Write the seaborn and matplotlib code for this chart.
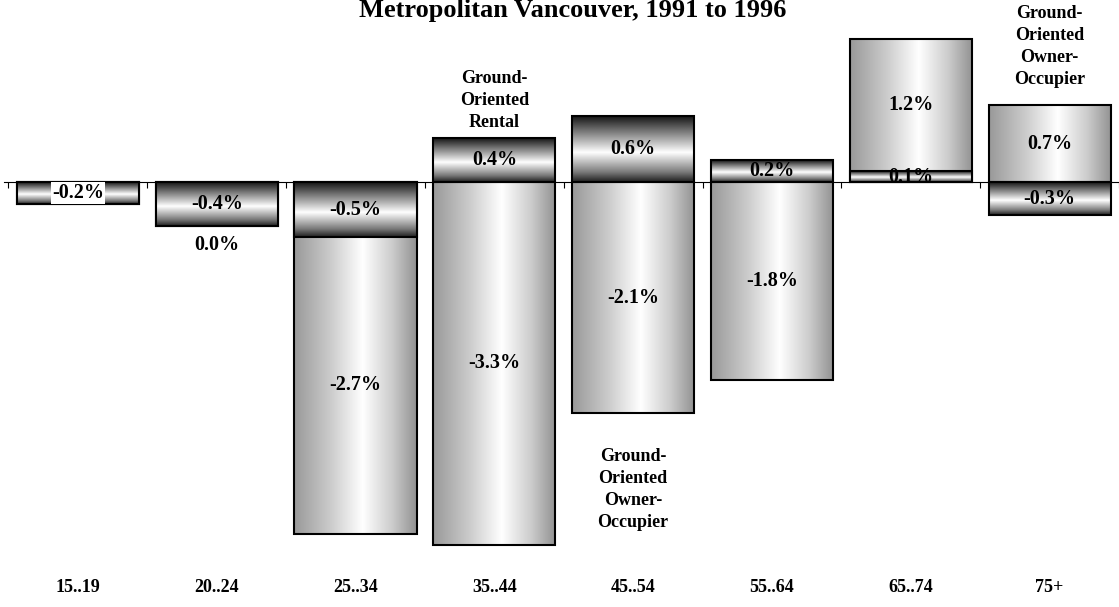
import numpy as np
import matplotlib
matplotlib.use("Agg")
import matplotlib.pyplot as plt
import matplotlib.transforms as mtransforms
import seaborn as sns

# Change in share of households by age group, Metropolitan Vancouver 1991-1996
age_groups = ["15..19", "20..24", "25..34", "35..44", "45..54", "55..64", "65..74", "75+"]
rental_change = [-0.2, -0.4, -0.5, 0.4, 0.6, 0.2, 0.1, -0.3]
owner_change = [0.0, 0.0, -2.7, -3.3, -2.1, -1.8, 1.2, 0.7]
owner_label_shown = [False, True, True, True, True, True, True, True]
title_text = "Metropolitan Vancouver, 1991 to 1996"
rental_note = "Ground-\nOriented\nRental"
owner_note = "Ground-\nOriented\nOwner-\nOccupier"

sns.set_theme(style="white")
plt.rcParams["font.family"] = ["Liberation Serif", "DejaVu Serif"]
plt.rcParams["font.weight"] = "bold"
plt.rcParams["text.color"] = "black"

W, H = 1119, 607
fig = plt.figure(figsize=(W / 100, H / 100), dpi=100)
ax = fig.add_axes([0, 0, 1, 1])

# pixel geometry of the plotting frame
x0_px, cat_px = 8.6, 140.5
zero_px, unit_px = 182.0, 110.0
xlim = (-0.5 - x0_px / cat_px, -0.5 + (W - x0_px) / cat_px)
ylim = (-(H - zero_px) / unit_px, zero_px / unit_px)

# owner bars sit on top of the rental bar when both move the same way
base = [r if (o == 0 or np.sign(o) == np.sign(r)) else 0.0
        for r, o in zip(rental_change, owner_change)]
owner_top = [b + o for b, o in zip(base, owner_change)]

bar_w = 0.88
sns.barplot(x=age_groups, y=owner_top, ax=ax, width=bar_w, errorbar=None,
            color="white", edgecolor="black", linewidth=1.5)
n_owner = len(ax.patches)
sns.barplot(x=age_groups, y=rental_change, ax=ax, width=bar_w, errorbar=None,
            color="white", edgecolor="black", linewidth=1.5)
owner_patches = ax.patches[:n_owner]
rental_patches = ax.patches[n_owner:]


def gray_cmap_array(stops, levels, n=256, horizontal=True):
    t = np.linspace(0, 1, n)
    g = np.interp(t, stops, levels)
    rgb = np.stack([g, g, g], axis=-1)
    if horizontal:
        return rgb[np.newaxis, :, :]
    return rgb[:, np.newaxis, :]


owner_grad = gray_cmap_array([0, 0.3, 0.56, 0.8, 1.0], [0.60, 0.80, 1.0, 0.80, 0.57])
rental_grad = gray_cmap_array([0, 0.2, 0.55, 0.85, 1.0], [0.08, 0.42, 1.0, 0.48, 0.12],
                              horizontal=False)


def fill_gradient(patch, grad, z):
    x, y = patch.get_x(), patch.get_y()
    w, h = patch.get_width(), patch.get_height()
    if h == 0:
        return
    ylo, yhi = min(y, y + h), max(y, y + h)
    im = ax.imshow(grad, extent=(x, x + w, ylo, yhi), origin="upper",
                   aspect="auto", interpolation="bilinear", zorder=z)
    im.set_clip_path(patch)
    patch.set_facecolor("none")
    patch.set_zorder(z + 0.5)


for p in owner_patches:
    fill_gradient(p, owner_grad, 2)
for p in rental_patches:
    fill_gradient(p, rental_grad, 4)

ax.set_xlim(*xlim)
ax.set_ylim(*ylim)

# zero axis with ticks at category boundaries
for s in ["left", "right", "top"]:
    ax.spines[s].set_visible(False)
ax.spines["bottom"].set_position(("data", 0))
ax.spines["bottom"].set_color("black")
ax.spines["bottom"].set_linewidth(0.8)
ax.spines["bottom"].set_zorder(1.5)
ax.spines["bottom"].set_bounds(-0.53, 7.6)
ax.set_xticks(np.arange(-0.5, len(age_groups), 1.0))
ax.set_xticklabels([])
ax.set_yticks([])
ax.tick_params(axis="x", direction="out", length=4, width=0.8, color="black",
               bottom=True)
ax.set_xlabel("")
ax.set_ylabel("")

val_font = dict(fontsize=14.5, fontweight="bold", color="black", ha="center",
                va="center", zorder=10)
note_font = dict(fontsize=13, fontweight="bold", color="black", ha="center",
                 linespacing=1.4, zorder=10)

for i, (r, o, b, shown) in enumerate(zip(rental_change, owner_change, base,
                                          owner_label_shown)):
    kw = dict(val_font)
    if i == 0:
        kw["bbox"] = dict(facecolor="white", edgecolor="none", pad=0.8)
    ax.text(i, r / 2, f"{r:.1f}%", **kw)
    if shown:
        if o == 0:
            ax.annotate(f"{o:.1f}%", xy=(i, b), xytext=(0, -14),
                        textcoords="offset points", **val_font)
        else:
            ax.text(i, b + o / 2, f"{o:.1f}%", **val_font)

# category labels along the bottom
cat_tr = mtransforms.blended_transform_factory(ax.transData, ax.transAxes)
for i, lab in enumerate(age_groups):
    ax.text(i, 0.032, lab, transform=cat_tr, fontsize=13, fontweight="bold",
            color="black", ha="center", va="center")

# series notes
ax.annotate(rental_note, xy=(3, rental_change[3]), xytext=(0, 5),
            textcoords="offset points", va="bottom", **note_font)
ax.annotate(owner_note, xy=(4, owner_top[4]), xytext=(0, -25),
            textcoords="offset points", va="top", **note_font)
ax.annotate(owner_note, xy=(7, owner_top[7]), xytext=(0, 12),
            textcoords="offset points", va="bottom", **note_font)

fig.text(573 / W, 1 - 17 / H, title_text, fontsize=19, fontweight="bold",
         color="black", ha="center", va="baseline")

fig.savefig("out.png", dpi=100)
